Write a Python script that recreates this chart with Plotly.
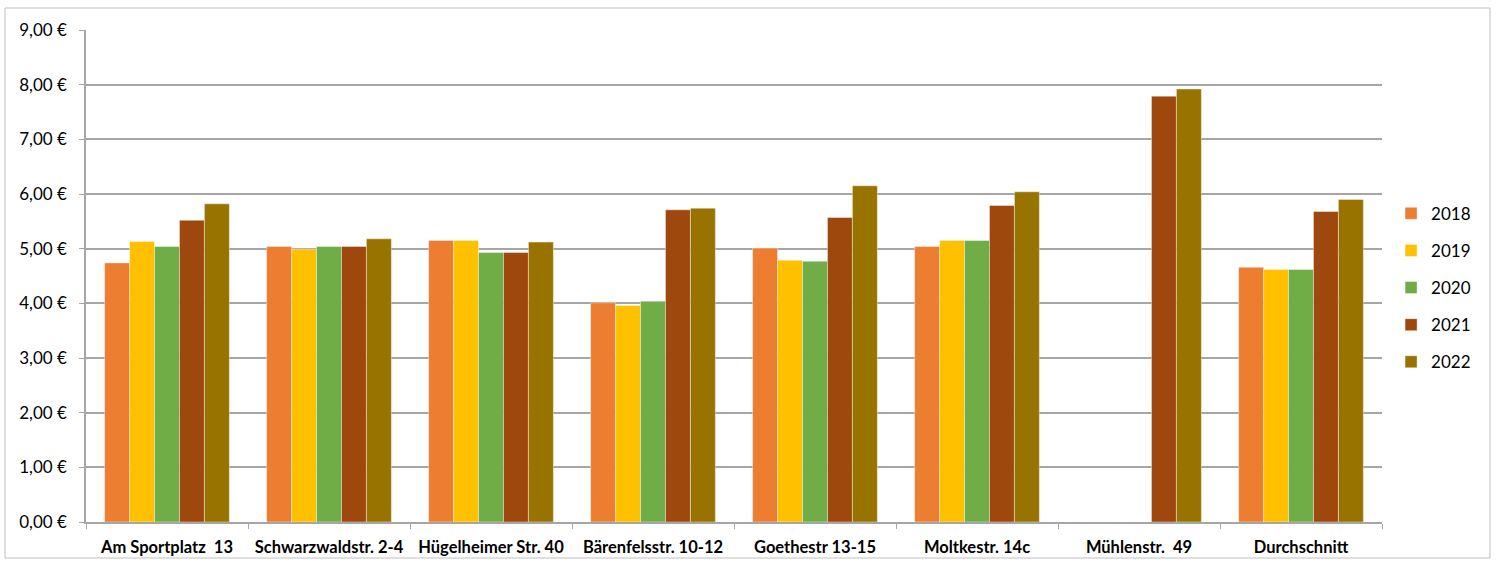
import plotly.graph_objects as go

categories = ["Am Sportplatz  13", "Schwarzwaldstr. 2-4", "Hügelheimer Str. 40", "Bärenfelsstr. 10-12",
              "Goethestr 13-15", "Moltkestr. 14c", "Mühlenstr.  49", "Durchschnitt"]
years = ["2018", "2019", "2020", "2021", "2022"]
v2018 = [4.74, 5.04, 5.15, 4.01, 5.01, 5.04, None, 4.66]
v2019 = [5.13, 4.99, 5.15, 3.96, 4.79, 5.15, None, 4.62]
v2020 = [5.04, 5.04, 4.93, 4.04, 4.77, 5.15, None, 4.62]
v2021 = [5.52, 5.04, 4.93, 5.71, 5.57, 5.79, 7.79, 5.68]
v2022 = [5.82, 5.18, 5.12, 5.74, 6.15, 6.04, 7.92, 5.90]
series = [v2018, v2019, v2020, v2021, v2022]
colors = ["#ED7D31", "#FFC000", "#70AD47", "#9E480E", "#997300"]
tick_vals = [0, 1, 2, 3, 4, 5, 6, 7, 8, 9]
tick_text = ["0,00 €", "1,00 €", "2,00 €", "3,00 €", "4,00 €", "5,00 €", "6,00 €", "7,00 €", "8,00 €", "9,00 €"]

font = "Lato, Open Sans, sans-serif"
fig = go.Figure()
for yr, vals, col in zip(years, series, colors):
    fig.add_trace(go.Bar(
        x=categories, y=vals, name=yr, legendgroup=yr,
        marker=dict(color=col, line=dict(color="rgba(255,255,255,0.5)", width=0.8)),
    ))

fig.update_layout(
    width=1496, height=563,
    margin=dict(l=86, r=114, t=30, b=41),
    paper_bgcolor="white", plot_bgcolor="white",
    barmode="group", bargap=0.23, bargroupgap=0,
    font=dict(family=font, size=16, color="#000000"),
    legend=dict(x=1.007, y=0.476, xanchor="left", yanchor="middle",
                font=dict(size=17), tracegroupgap=12, itemwidth=30,
                bgcolor="rgba(0,0,0,0)"),
    xaxis=dict(showgrid=False, showline=True, linecolor="#A6A6A6", linewidth=1.5,
               ticks="outside", tickson="boundaries", ticklen=5, tickcolor="#A6A6A6",
               ticklabelstandoff=9, automargin=False,
               tickfont=dict(size=16.5, family=font, weight="bold"), fixedrange=True),
    yaxis=dict(range=[0, 9], tickvals=tick_vals, ticktext=tick_text,
               showgrid=True, gridcolor="#A6A6A6", gridwidth=1.5,
               showline=True, linecolor="#A6A6A6", linewidth=1.5,
               ticks="outside", ticklen=5, tickcolor="#A6A6A6",
               ticklabelstandoff=9, automargin=False,
               tickfont=dict(size=17), zeroline=False),
    shapes=[dict(type="rect", xref="paper", yref="paper",
                 x0=-0.0625, x1=1.0833, y0=-0.0732, y1=1.0447,
                 line=dict(color="#BFBFBF", width=1), fillcolor="rgba(0,0,0,0)", layer="below")],
)

fig.write_html("out.html")
